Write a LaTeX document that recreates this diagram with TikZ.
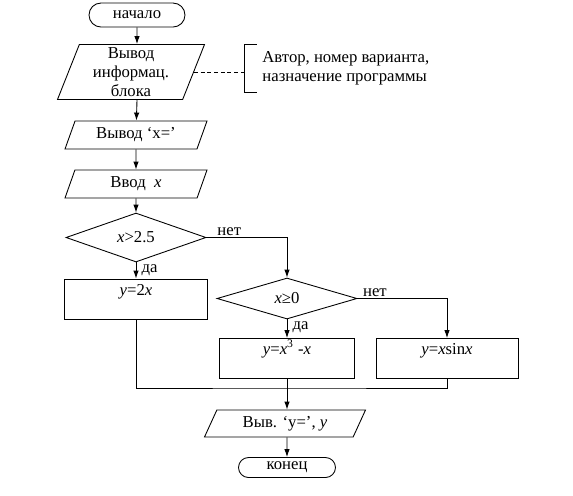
\documentclass[tikz,border=0pt]{standalone}
\usepackage{fontspec}
\setmainfont{Liberation Serif}
\usepackage{xcolor}
\usetikzlibrary{shapes.geometric,shapes.misc,arrows.meta}

\begin{document}
\begin{tikzpicture}[x=0.2mm, y=-0.2mm, line width=0.5pt,
		font=\fontsize{9.5}{10.8}\selectfont,
		term/.style={draw, rounded rectangle, minimum width=19.2mm, minimum height=4.8mm, inner sep=0pt},
		io/.style={draw, trapezium, trapezium stretches body, trapezium left angle=#1, trapezium right angle=180-#1, inner xsep=1mm, inner ysep=0pt, align=center},
		cond/.style={draw, diamond, minimum width=28mm, minimum height=8.2mm, inner sep=0pt},
		proc/.style={draw, rectangle, inner sep=0pt, text height=3.2mm, text depth=4.8mm},
		lbl/.style={inner sep=1pt},
		arr/.style={-{Latex[length=1.6mm, width=1.1mm]}}]
		\useasboundingbox (0,0) rectangle (573,495);
		% main column
		\node[term] (start) at (137,15) {начало};
		\node[io=66, minimum width=29.4mm, minimum height=11mm] (info) at (131,72) {Вывод\\информац.\\блока};
		\node[io=55, minimum width=28.4mm, minimum height=5.6mm] (outx) at (136,135) {Вывод ‘x=’};
		\node[io=55, minimum width=28.4mm, minimum height=5.6mm] (inx) at (136,184) {Ввод~ \textit{x}};
		\node[cond] (d1) at (136,237.5) {\textit{x}>2.5};
		\node[proc, minimum width=28.6mm] (b1) at (136,299) {\textit{y}=2\textit{x}};
		% comment note
		\node[inner xsep=3.6mm, inner ysep=0pt, minimum height=9.4mm, anchor=west, align=left] (note) at (244,68.5) {Автор, номер варианта,\\назначение программы};
		\draw (note.north west) ++(13,0) -- (note.north west) -- (note.south west) -- ++(13,0);
		\draw[dash pattern=on 2.2pt off 1.6pt] (info.east) -- (info.east -| note.west);
		% second column
		\node[cond] (d2) at (287,298.5) {\textit{x}≥0};
		\node[proc, minimum width=27mm] (b2) at (287,358.5) {\textit{y}=\textit{x}\textsuperscript{3}~-\textit{x}};
		\node[proc, minimum width=28.4mm] (b3) at (447,358.5) {\textit{y}=\textit{x}sin\textit{x}};
		\coordinate (join) at (287,388);
		\node[io=50, minimum width=32.2mm, minimum height=5.4mm] (outy) at (285,423.5) {Выв. ‘y=’, \textit{y}};
		\node[term, minimum width=19.4mm, minimum height=4mm] (stop) at (287,467.5) {конец};
		% connectors
		\draw[arr] (start) -- (start |- info.north);
		\draw[arr] (info.south -| start) -- (outx);
		\draw[arr] (outx) -- (inx);
		\draw[arr] (inx) -- (d1);
		\draw[arr] (d1) -- (b1);
		\draw[arr] (d1.east) -| (d2.north);
		\draw[arr] (d2) -- (b2);
		\draw[arr] (d2.east) -| (b3.north);
		\draw (b1.south) |- (join) -| (b3.south);
		\draw (b2.south) -- (join);
		\draw[arr] (join) -- (join |- outy.north);
		\draw[arr] (outy.south -| stop) -- (stop);
		% branch labels
		\node[lbl, anchor=south west] (no1) at ([xshift=5]d1.east) {нет};
		\node[lbl, anchor=north west] (yes1) at ([xshift=2]d1.south) {да};
		\node[lbl, anchor=south west] (no2) at ([xshift=2]d2.east) {нет};
		\node[lbl, anchor=north west] (yes2) at ([xshift=2]d2.south) {да};
\end{tikzpicture}
\end{document}
